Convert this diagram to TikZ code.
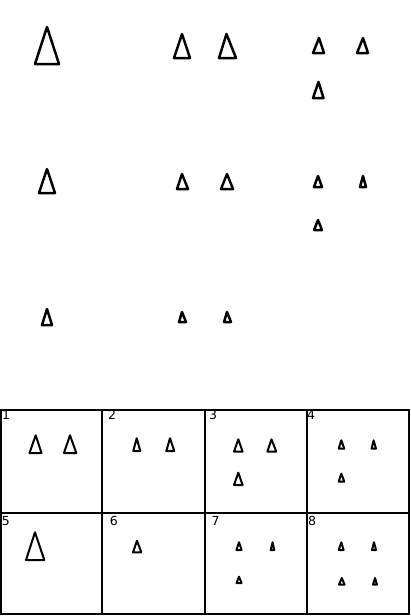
\documentclass[tikz,border=0pt]{standalone}
\usepackage{fontspec}
\setmainfont{DejaVu Sans}
\tikzset{
  tribig/.style={draw=black, line width=2.5pt, line join=round},
  trians/.style={draw=black, line width=2pt, line join=round},
  gridline/.style={draw=black, line width=2.3pt},
  numlbl/.style={anchor=base west, inner sep=0pt, font=\fontsize{12.5}{13}\selectfont}
}
% \trg[style]{apex x}{apex y}{left x}{right x}{base y}
\newcommand{\trg}[6][tribig]{\draw[#1] (#2,#3) -- (#4,#6) -- (#5,#6) -- cycle;}
\begin{document}
\begin{tikzpicture}[x=1pt,y=-1pt]
\useasboundingbox (0,0) rectangle (410,616);
% ---- top 3x3 matrix ----
% row 1
\trg{47}{27}{35}{59}{64}
\trg{182}{34}{174}{190}{58}
\trg{226.5}{34}{219}{236}{58}
\trg{319}{38}{313}{324}{53}
\trg{363}{38}{357}{368}{53}
\trg{318.5}{82}{313}{323.5}{98}
% row 2
\trg{47}{169}{39}{55}{193}
\trg{182}{174}{177}{188}{189}
\trg{227}{174}{221}{233}{189}
\trg{318}{176}{314}{322}{187}
\trg{363}{176}{360}{366}{187}
\trg{318}{220}{314}{322}{230}
% row 3
\trg{47}{309}{42}{52}{325}
\trg{182}{312}{179}{186}{322}
\trg{227}{312}{224}{231}{322}
% ---- answer grid ----
\draw[gridline] (1,410) rectangle (409,614);
\draw[gridline] (1,512.7) -- (409,512.7);
\draw[gridline] (102.3,410) -- (102.3,614);
\draw[gridline] (204.7,410) -- (204.7,614);
\draw[gridline] (306.7,410) -- (306.7,614);
\node[numlbl] (n1) at (2,419.5) {1};
\node[numlbl] (n2) at (108,419.5) {2};
\node[numlbl] (n3) at (209,419.5) {3};
\node[numlbl] (n4) at (307,419.5) {4};
\node[numlbl] (n5) at (1.7,525.5) {5};
\node[numlbl] (n6) at (109.7,525.5) {6};
\node[numlbl] (n7) at (211.3,525.5) {7};
\node[numlbl] (n8) at (308,525.5) {8};
% option 1
\trg[trians]{35.7}{435.3}{29.5}{41.5}{453}
\trg[trians]{70}{435.3}{64}{76.3}{453}
% option 2
\trg[trians]{136.7}{438.3}{133.3}{140.3}{451}
\trg[trians]{170}{438.3}{166.3}{174.3}{451}
% option 3
\trg[trians]{238.3}{439.3}{234}{242.6}{451.6}
\trg[trians]{271.5}{439.3}{267.4}{276.3}{451.6}
\trg[trians]{238.3}{472.7}{234}{242.6}{485}
% option 4
\trg[trians]{341.3}{440.3}{338.7}{344.3}{448.6}
\trg[trians]{373.6}{440.3}{371.6}{376}{448.6}
\trg[trians]{341.3}{473.7}{338.7}{344.3}{481.6}
% option 5
\trg[trians]{35}{532.3}{26}{44.3}{560}
% option 6
\trg[trians]{137}{540.7}{133}{141.3}{552.3}
% option 7
\trg[trians]{239}{542.3}{236.4}{241.6}{550}
\trg[trians]{272.6}{542.3}{270.7}{274.3}{550}
\trg[trians]{239}{576.7}{236.6}{241.6}{583}
% option 8
\trg[trians]{341.3}{542.3}{338.7}{343.6}{550}
\trg[trians]{374}{542.3}{372}{376}{550}
\trg[trians]{341.8}{578}{339}{344.6}{584.6}
\trg[trians]{375}{578}{373}{377}{584.6}
\end{tikzpicture}
\end{document}
